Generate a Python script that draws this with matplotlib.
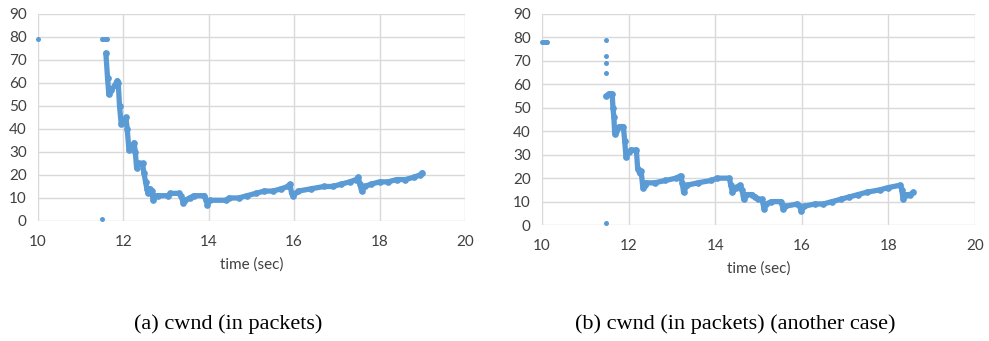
import matplotlib.pyplot as plt

BLUE = "#5b9bd5"
GRID = "#d9d9d9"
TICK = "#404040"

# (a) cwnd trace, first case
time_a = [11.59, 11.63, 11.66, 11.72, 11.80, 11.86, 11.88, 11.91, 11.95, 12.02, 12.06, 12.09,
          12.13, 12.20, 12.25, 12.28, 12.31, 12.36, 12.45, 12.48, 12.52, 12.55, 12.58, 12.62,
          12.66, 12.70, 12.74, 12.80, 13.05, 13.10, 13.30, 13.35, 13.40, 13.45, 13.55, 13.65,
          13.90, 13.94, 13.97, 14.02, 14.40, 14.48, 14.70, 14.90, 15.10, 15.30, 15.50, 15.70,
          15.85, 15.90, 15.94, 15.98, 16.10, 16.40, 16.70, 16.90, 17.10, 17.30, 17.45, 17.50,
          17.54, 17.58, 17.65, 17.80, 18.00, 18.20, 18.40, 18.60, 18.80, 18.95, 19.00]
cwnd_a = [73, 62, 55, 57, 59, 61, 60, 50, 42, 43, 45, 40,
          31, 32, 34, 30, 23, 25, 25, 21, 17, 14, 12, 14,
          13, 9, 11, 11, 11, 12, 12, 11, 8, 9, 10, 11,
          11, 9, 7, 9, 9, 10, 10, 11, 12, 13, 13, 14,
          15, 16, 12, 11, 13, 14, 15, 15, 16, 17, 18, 19,
          16, 13, 15, 16, 17, 17, 18, 18, 19, 20, 21]
lone_time_a = [10.0, 11.50, 11.53, 11.56, 11.59, 11.62, 11.50]
lone_cwnd_a = [79, 79, 79, 79, 79, 79, 1]

# (b) cwnd trace, another case
time_b = [11.48, 11.55, 11.62, 11.64, 11.66, 11.68, 11.72, 11.79, 11.88, 11.91, 11.94, 12.00,
          12.05, 12.18, 12.21, 12.26, 12.29, 12.33, 12.37, 12.40, 12.60, 12.85, 13.10, 13.20,
          13.24, 13.27, 13.35, 13.60, 13.90, 14.05, 14.33, 14.36, 14.40, 14.47, 14.58, 14.62,
          14.66, 14.72, 14.85, 14.92, 15.00, 15.08, 15.13, 15.18, 15.30, 15.52, 15.57, 15.62,
          15.90, 15.95, 15.99, 16.05, 16.30, 16.50, 16.70, 16.90, 17.10, 17.30, 17.50, 17.80,
          18.00, 18.28, 18.31, 18.34, 18.40, 18.50, 18.58]
cwnd_b = [55, 56, 56, 50, 46, 39, 40, 42, 42, 36, 29, 31,
          32, 32, 24, 22, 23, 16, 17, 18, 18, 19, 20, 21,
          18, 14, 17, 18, 19, 20, 20, 17, 14, 16, 17, 15,
          11, 13, 13, 12, 11, 11, 7, 9, 10, 10, 7, 8,
          9, 8, 6, 8, 9, 9, 10, 11, 12, 13, 14, 15,
          16, 17, 15, 11, 13, 13, 14]
lone_time_b = [10.00, 10.03, 10.06, 10.09, 10.12, 11.49, 11.49, 11.49, 11.49, 11.49]
lone_cwnd_b = [78, 78, 78, 78, 78, 79, 72, 69, 65, 1]

x_ticks = [10, 12, 14, 16, 18, 20]
y_ticks = [0, 10, 20, 30, 40, 50, 60, 70, 80, 90]

SANS = ["Lato", "DejaVu Sans"]


def draw_panel(axis, t, cwnd, lone_t, lone_cwnd):
    axis.plot(t, cwnd, color=BLUE, linewidth=3.8, solid_capstyle="round",
              solid_joinstyle="round", zorder=3)
    axis.plot(t, cwnd, "o", color=BLUE, markersize=3.8, zorder=3)
    axis.plot(lone_t, lone_cwnd, "o", color=BLUE, markersize=3.6, markeredgewidth=0,
              zorder=3, clip_on=False)
    axis.set_xlim(10, 20)
    axis.set_ylim(0, 90)
    axis.set_xticks(x_ticks)
    axis.set_yticks(y_ticks)
    axis.grid(True, color=GRID, linewidth=1.0)
    axis.set_axisbelow(True)
    for spine in axis.spines.values():
        spine.set_visible(False)
    axis.tick_params(length=0, labelsize=11, labelcolor=TICK)
    axis.tick_params(axis="x", pad=10)
    axis.tick_params(axis="y", pad=8)
    axis.set_xlabel("time (sec)", fontsize=11, color=TICK, labelpad=6)
    for label in axis.get_xticklabels() + axis.get_yticklabels():
        label.set_family(SANS)
    axis.xaxis.label.set_family(SANS)


fig = plt.figure(figsize=(9.89, 3.41), dpi=100)
ax_a = fig.add_axes([0.0384, 0.352, 0.4317, 0.607])
ax_b = fig.add_axes([0.548, 0.340, 0.4378, 0.619])
draw_panel(ax_a, time_a, cwnd_a, lone_time_a, lone_cwnd_a)
draw_panel(ax_b, time_b, cwnd_b, lone_time_b, lone_cwnd_b)

fig.text(0.231, 0.048, "(a) cwnd (in packets)", ha="center", va="center",
         fontsize=16, family="Liberation Serif")
fig.text(0.743, 0.048, "(b) cwnd (in packets) (another case)", ha="center", va="center",
         fontsize=16, family="Liberation Serif")

fig.savefig("out.png", dpi=100)
